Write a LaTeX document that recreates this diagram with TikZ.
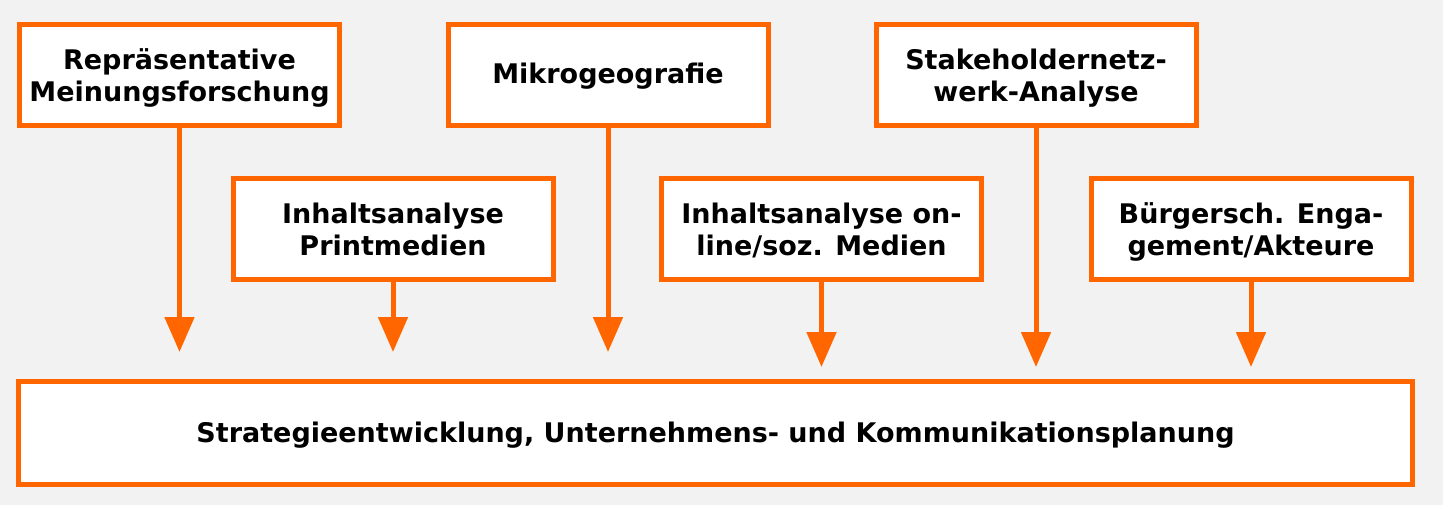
\documentclass[tikz,border=0pt]{standalone}
\usepackage{fontspec}
\setmainfont{DejaVu Sans}
\usetikzlibrary{arrows.meta}
\definecolor{bgc}{HTML}{F2F2F2}
\definecolor{orng}{HTML}{FF6600}
\newcommand\lowtxt[2]{\raisebox{-#1}[\height][\depth]{#2}}
\newcommand\twolines[2]{\lowtxt{4pt}{\begin{tabular}{@{}c@{}}#1\\#2\end{tabular}}}
\tikzset{
  boxstyle/.style={draw=orng, fill=white, line width=5pt, minimum width=320pt, minimum height=101pt,
    inner sep=0pt, align=center, font=\fontsize{27}{32}\selectfont\bfseries, text=black},
  arrowstyle/.style={draw=orng, line width=5pt, -{Triangle[width=29pt,length=35pt]}, orng}
}
\begin{document}
\begin{tikzpicture}[x=1pt,y=-1pt]
\fill[bgc] (0,0) rectangle (1443,505);
\useasboundingbox (0,0) rectangle (1443,505);
\node[boxstyle] (r1) at (179.5,75) {\twolines{Repräsentative}{Meinungsforschung}};
\node[boxstyle] (mikro) at (608,75) {\lowtxt{1.5pt}{Mikrogeografie}};
\node[boxstyle] (stake) at (1036,75) {\twolines{Stakeholdernetz-}{werk-Analyse}};
\node[boxstyle] (print) at (393,229) {\twolines{Inhaltsanalyse}{Printmedien}};
\node[boxstyle] (online) at (821.5,229) {\twolines{Inhaltsanalyse on-}{line/soz. Medien}};
\node[boxstyle] (buerger) at (1251,229) {\twolines{Bürgersch. Enga-}{gement/Akteure}};
\node[boxstyle, minimum width=1394pt, minimum height=103pt] (plan) at (715.5,433)
  {\lowtxt{2pt}{Strategieentwicklung, Unternehmens- und Kommunikationsplanung}};
\coordinate (t1) at (179.5,352);
\coordinate (t2) at (393,352);
\coordinate (t3) at (608,352);
\coordinate (t4) at (821.5,367);
\coordinate (t5) at (1036,367);
\coordinate (t6) at (1251,367);
\draw[arrowstyle] (r1.south) -- (t1);
\draw[arrowstyle] (print.south) -- (t2);
\draw[arrowstyle] (mikro.south) -- (t3);
\draw[arrowstyle] (online.south) -- (t4);
\draw[arrowstyle] (stake.south) -- (t5);
\draw[arrowstyle] (buerger.south) -- (t6);
\end{tikzpicture}
\end{document}
